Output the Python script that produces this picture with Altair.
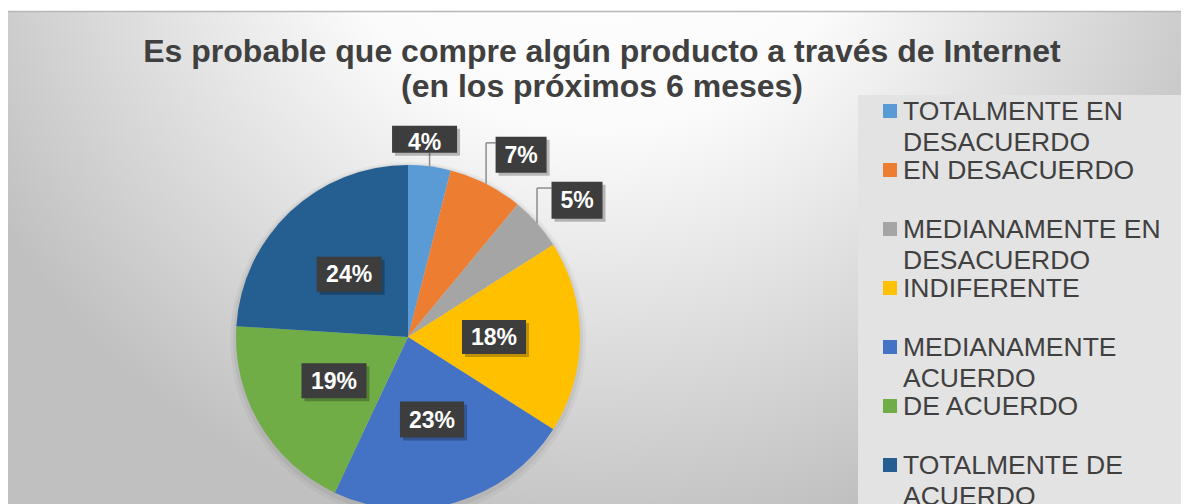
import altair as alt
import pandas as pd

# ---------------- data ----------------
categories = [
    "TOTALMENTE EN DESACUERDO",
    "EN DESACUERDO",
    "MEDIANAMENTE EN DESACUERDO",
    "INDIFERENTE",
    "MEDIANAMENTE ACUERDO",
    "DE ACUERDO",
    "TOTALMENTE DE ACUERDO",
]
legend_labels = [
    "TOTALMENTE EN\nDESACUERDO",
    "EN DESACUERDO",
    "MEDIANAMENTE EN\nDESACUERDO",
    "INDIFERENTE",
    "MEDIANAMENTE\nACUERDO",
    "DE ACUERDO",
    "TOTALMENTE DE\nACUERDO",
]
values = [4, 7, 5, 18, 23, 19, 24]
title_lines = [
    "Es probable que compre algún producto a través de Internet",
    "(en los próximos 6 meses)",
]

# ---------------- style ----------------
slice_colors = ["#5B9BD5", "#ED7D31", "#A5A5A5", "#FFC000", "#4472C4", "#70AD47", "#255E91"]
W, H = 1173, 496
CX, CY, R = 400, 329, 172
R_IN = 86
FONT = "Liberation Sans"
TXT = "#404040"
label_outside = [1, 1, 1, 0, 0, 0, 0]
label_dx = [-5, 35, 40, 0, 0, 0, 0]
label_dy = [-27, -29, -23, 0, 0, 0, 0]
box_w = [65, 51, 51, 64, 64, 65, 65]
box_h = [27, 36, 37, 34, 36, 35, 35]
text_dy = [4, 1, 1, 1, 1, 1, 1]
lead_frac = [1.0, 0.17, 0.17, 0, 0, 0, 0]
LEG_Y0, LEG_STEP = 103, 59

df = pd.DataFrame({
    "cat": categories,
    "leg": legend_labels,
    "value": values,
    "idx": list(range(len(values))),
    "label": [f"{v}%" for v in values],
    "outside": label_outside,
    "ldx": label_dx,
    "ldy": label_dy,
    "bw": box_w,
    "bh": box_h,
    "tdy": text_dy,
    "lf": lead_frac,
})

color = alt.Color("cat:N", scale=alt.Scale(domain=categories, range=slice_colors), legend=None)


def positioned():
    return (
        alt.Chart(df)
        .transform_joinaggregate(total="sum(value)")
        .transform_window(cum="sum(value)", sort=[alt.SortField("idx")])
        .transform_calculate(
            mid="(datum.cum - datum.value/2) / datum.total * 2 * PI",
        )
        .transform_calculate(
            ex=f"{CX} + {R} * sin(datum.mid)",
            ey=f"{CY} - {R} * cos(datum.mid)",
            ix=f"{CX} + {R_IN} * sin(datum.mid)",
            iy=f"{CY} - {R_IN} * cos(datum.mid)",
        )
        .transform_calculate(
            bx="datum.outside ? datum.ex + datum.ldx : datum.ix",
            by="datum.outside ? datum.ey + datum.ldy : datum.iy",
        )
        .transform_calculate(
            bx1="datum.bx - datum.bw/2",
            bx2="datum.bx + datum.bw/2",
            by1="datum.by - datum.bh/2",
            by2="datum.by + datum.bh/2",
            ty="datum.by + datum.tdy",
        )
        .transform_calculate(
            ay="datum.by1 + datum.lf * datum.bh",
            ax="(datum.ex >= datum.bx1 && datum.ex <= datum.bx2) ? datum.ex : datum.bx1",
        )
    )


one = pd.DataFrame({"a": [0]})

background = alt.Chart(one).mark_rect(
    fill=alt.RadialGradient(
        gradient="radial",
        stops=[
            alt.GradientStop(color="#ffffff", offset=0),
            alt.GradientStop(color="#fbfbfb", offset=0.4),
            alt.GradientStop(color="#c0c0c0", offset=1),
        ],
        x1=0.5, y1=0.15, r1=0,
        x2=0.5, y2=0.15, r2=0.6,
    )
).encode(x=alt.value(0), x2=alt.value(W), y=alt.value(4), y2=alt.value(H))

top_border = alt.Chart(one).mark_rule(color="#b8b8b8", strokeWidth=1.5).encode(
    x=alt.value(0), x2=alt.value(W), y=alt.value(3.5)
)

legend_box = alt.Chart(one).mark_rect(fill="#e3e3e3").encode(
    x=alt.value(850), x2=alt.value(W), y=alt.value(87), y2=alt.value(H)
)

shadow1 = alt.Chart(one).mark_arc(radius=R + 6, theta=0, theta2=6.2832, color="black", opacity=0.035).encode(
    x=alt.value(CX), y=alt.value(CY + 3)
)
shadow2 = alt.Chart(one).mark_arc(radius=R + 3, theta=0, theta2=6.2832, color="black", opacity=0.05).encode(
    x=alt.value(CX), y=alt.value(CY + 2)
)

pie = alt.Chart(df).mark_arc(radius=R).encode(
    theta=alt.Theta("value:Q", stack=True),
    order=alt.Order("idx:Q"),
    color=color,
    x=alt.value(CX),
    y=alt.value(CY),
)

lead_v = positioned().transform_filter("datum.outside == 1").mark_rule(color="#8c8c8c", strokeWidth=1.5).encode(
    x=alt.X("ex:Q", scale=None, axis=None),
    y=alt.Y("ey:Q", scale=None, axis=None),
    y2="ay:Q",
)
lead_h = positioned().transform_filter("datum.outside == 1").mark_rule(color="#8c8c8c", strokeWidth=1.5).encode(
    x=alt.X("ex:Q", scale=None, axis=None),
    x2="ax:Q",
    y=alt.Y("ay:Q", scale=None, axis=None),
)

box_shadow = positioned().transform_calculate(
    sx1="datum.bx1 + 3", sx2="datum.bx2 + 3", sy1="datum.by1 + 3", sy2="datum.by2 + 3"
).mark_rect(color="black", opacity=0.25).encode(
    x=alt.X("sx1:Q", scale=None, axis=None), x2="sx2:Q",
    y=alt.Y("sy1:Q", scale=None, axis=None), y2="sy2:Q",
)

boxes = positioned().mark_rect(color="#3d3d3d").encode(
    x=alt.X("bx1:Q", scale=None, axis=None), x2="bx2:Q",
    y=alt.Y("by1:Q", scale=None, axis=None), y2="by2:Q",
)

labels = positioned().mark_text(
    font=FONT, fontSize=23, fontWeight="bold", color="white", align="center", baseline="middle"
).encode(
    x=alt.X("bx:Q", scale=None, axis=None),
    y=alt.Y("ty:Q", scale=None, axis=None),
    text="label:N",
)

leg_base = alt.Chart(df).transform_calculate(
    ly=f"{LEG_Y0} + {LEG_STEP} * datum.idx",
    tyl=f"{LEG_Y0} + {LEG_STEP} * datum.idx + 8.5",
)
leg_marks = leg_base.mark_square(size=196, opacity=1).encode(
    x=alt.value(882),
    y=alt.Y("ly:Q", scale=None, axis=None),
    color=color,
)
leg_text = leg_base.mark_text(
    font=FONT, fontSize=26.5, color=TXT, align="left", baseline="alphabetic", lineBreak="\n", lineHeight=31
).encode(
    x=alt.value(895),
    y=alt.Y("tyl:Q", scale=None, axis=None),
    text="leg:N",
)

title_df = pd.DataFrame({"t": ["\n".join(title_lines)]})
title = alt.Chart(title_df).mark_text(
    font=FONT, fontSize=32, fontWeight="bold", color=TXT, align="center", baseline="alphabetic",
    lineBreak="\n", lineHeight=35
).encode(x=alt.value(594), y=alt.value(54), text="t:N")

chart = alt.layer(
    background, top_border, legend_box, shadow1, shadow2, pie, lead_v, lead_h,
    box_shadow, boxes, labels, leg_marks, leg_text, title,
).properties(
    width=W, height=H, padding=0, autosize=alt.AutoSizeParams(type="none")
).configure_view(stroke=None)

chart.save("out.html", embed_options={"renderer": "svg", "actions": False})
